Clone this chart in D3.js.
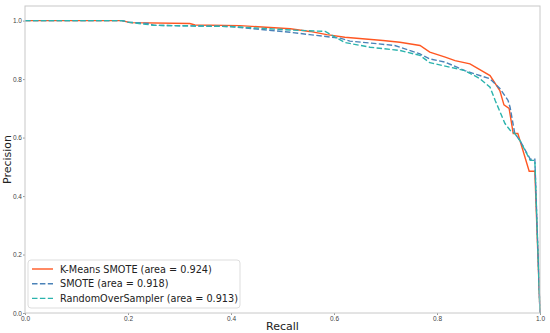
<!DOCTYPE html>
<html>
<head>
<meta charset="utf-8">
<script src="https://cdn.jsdelivr.net/npm/d3@7"></script>
<style>
  body { margin: 0; background: #fff; }
  svg { font-family: "DejaVu Sans", sans-serif; }
</style>
</head>
<body>
<div id="chart"></div>
<script>
// recall / precision pairs
var kmeansRecall = [0, 0.188, 0.204, 0.320, 0.330, 0.417, 0.515, 0.553, 0.586, 0.621, 0.695, 0.728, 0.767, 0.786, 0.816, 0.835, 0.864, 0.903, 0.922, 0.930, 0.940, 0.948, 0.957, 0.979, 0.990, 1.0]
var kmeansPrecision = [1, 1, 0.993, 0.990, 0.985, 0.983, 0.972, 0.963, 0.952, 0.943, 0.932, 0.926, 0.915, 0.892, 0.875, 0.863, 0.852, 0.812, 0.761, 0.712, 0.700, 0.614, 0.614, 0.485, 0.485, 0]

var smoteRecall = [0, 0.188, 0.200, 0.240, 0.250, 0.398, 0.515, 0.553, 0.612, 0.631, 0.718, 0.767, 0.786, 0.816, 0.854, 0.903, 0.922, 0.938, 0.942, 0.951, 0.961, 0.981, 0.990, 1.0]
var smotePrecision = [1, 1, 0.995, 0.990, 0.984, 0.980, 0.960, 0.952, 0.940, 0.930, 0.915, 0.886, 0.869, 0.858, 0.829, 0.801, 0.768, 0.727, 0.703, 0.614, 0.590, 0.526, 0.526, 0]

var rosRecall = [0, 0.188, 0.200, 0.250, 0.398, 0.515, 0.583, 0.621, 0.670, 0.728, 0.767, 0.786, 0.835, 0.854, 0.883, 0.903, 0.913, 0.932, 0.942, 0.951, 0.961, 0.981, 0.990, 1.0]
var rosPrecision = [1, 1, 0.995, 0.984, 0.980, 0.968, 0.963, 0.925, 0.909, 0.898, 0.881, 0.856, 0.837, 0.829, 0.802, 0.772, 0.727, 0.648, 0.625, 0.614, 0.590, 0.522, 0.522, 0]

var seriesNames = ["K-Means SMOTE (area = 0.924)", "SMOTE (area = 0.918)", "RandomOverSampler (area = 0.913)"]
var xTicks = [0, 0.2, 0.4, 0.6, 0.8, 1.0]
var yTicks = [0, 0.2, 0.4, 0.6, 0.8, 1.0]

var W = 550, H = 333
var m = {left: 25, right: 10, top: 6, bottom: 20}
var w = W - m.left - m.right
var h = H - m.top - m.bottom

var series = [
  {name: seriesNames[0], r: kmeansRecall, p: kmeansPrecision, color: "#ff5722", dash: null},
  {name: seriesNames[1], r: smoteRecall, p: smotePrecision, color: "#4a82b8", dash: "5.5,2.4"},
  {name: seriesNames[2], r: rosRecall, p: rosPrecision, color: "#2bb3ad", dash: "5.5,2.4"}
]

var svg = d3.select("#chart").append("svg").attr("width", W).attr("height", H)
var g = svg.append("g").attr("transform", "translate(" + m.left + "," + m.top + ")")

var x = d3.scaleLinear().domain([0, 1]).range([0, w])
var y = d3.scaleLinear().domain([0, 1.05]).range([h, 0])

var xAxis = g.append("g").attr("transform", "translate(0," + h + ")")
  .call(d3.axisBottom(x).tickValues(xTicks).tickFormat(d3.format(".1f")).tickSize(2).tickPadding(1))
var yAxis = g.append("g")
  .call(d3.axisLeft(y).tickValues(yTicks).tickFormat(d3.format(".1f")).tickSize(2).tickPadding(1))

;[xAxis, yAxis].forEach(function(a){
  a.select(".domain").remove()
  a.selectAll("line").attr("stroke", "#999")
  a.selectAll("text").attr("fill", "#444").style("font-size", "6.5px")
})

var line = d3.line()
  .x(function(d){ return x(d[0]) })
  .y(function(d){ return y(d[1]) })

series.forEach(function(s){
  var pts = s.r.map(function(v, i){ return [v, s.p[i]] })
  g.append("path")
    .datum(pts)
    .attr("fill", "none")
    .attr("stroke", s.color)
    .attr("stroke-width", 1.4)
    .attr("stroke-dasharray", s.dash)
    .attr("d", line)
})

// frame
g.append("rect").attr("width", w).attr("height", h)
  .attr("fill", "none").attr("stroke", "#c8c8c8").attr("stroke-width", 1)

svg.append("text").text("Recall")
  .attr("x", m.left + w / 2).attr("y", 330)
  .attr("text-anchor", "middle").style("font-size", "11px").attr("fill", "#222")
svg.append("text").text("Precision")
  .attr("transform", "translate(11," + (m.top + h / 2) + ") rotate(-90)")
  .attr("text-anchor", "middle").style("font-size", "11px").attr("fill", "#222")

// legend
var lg = svg.append("g").attr("transform", "translate(28,260)")
lg.append("rect").attr("width", 212).attr("height", 48).attr("rx", 3)
  .attr("fill", "#fff").attr("fill-opacity", 0.85).attr("stroke", "#ddd")
series.forEach(function(s, i){
  var yy = 9 + i * 14.7
  lg.append("line").attr("x1", 4).attr("x2", 25).attr("y1", yy).attr("y2", yy)
    .attr("stroke", s.color).attr("stroke-width", 1.4).attr("stroke-dasharray", s.dash)
  lg.append("text").text(s.name).attr("x", 32).attr("y", yy + 3.6)
    .style("font-size", "9.7px").attr("fill", "#222")
})
</script>
</body>
</html>
